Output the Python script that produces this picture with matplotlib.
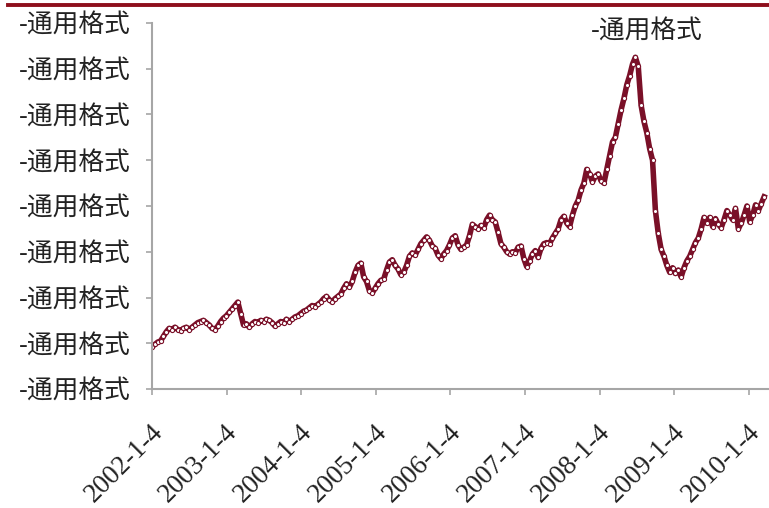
import matplotlib
matplotlib.use("Agg")
import matplotlib.pyplot as plt
import matplotlib.transforms as mtransforms
from matplotlib.lines import Line2D
import pandas as pd

plt.rcParams['font.family'] = ['Noto Sans CJK SC', 'DejaVu Sans']

# Biweekly observations, 2002-01-04 onward
start_date = "2002-01-04"
values_2002 = [18.5, 19.5, 20.5, 21, 23, 25, 26.5, 26, 27, 26, 25.5, 26.5, 27,
               26, 27, 28, 29, 29.5, 30, 29, 28, 26.5, 26, 27.5, 29.5, 31]
values_2003 = [32, 33.5, 35, 36.5, 38, 33, 28, 28.5, 27, 28.5, 29.5, 29, 30,
               29.5, 30.5, 30, 29, 27.5, 28.5, 29.5, 29, 30.5, 29.5, 30.5, 31.5, 32]
values_2004 = [33, 34, 34.5, 35.5, 36.5, 36, 37, 38, 39.5, 40.5, 39, 38, 39.5,
               40.5, 41.5, 44, 46, 44.5, 47, 51, 54, 55, 49, 47, 43, 42]
values_2005 = [44, 46, 47.5, 48, 52, 55.5, 56.5, 54, 52.5, 50, 51, 54, 58,
               59.5, 58.5, 61, 63.5, 65, 66.5, 65, 62.5, 61.5, 58.5, 57, 59, 60.5]
values_2006 = [63, 66, 67, 63, 61, 62, 63, 67, 72, 71, 70, 71.5, 70.5,
               74, 76, 74, 73, 68.5, 63.5, 62, 60, 59, 60, 59.5, 62, 62.5]
values_2007 = [57, 53.5, 56, 59, 60.5, 57.5, 61.5, 63.5, 64, 63.5, 66, 68, 70,
               74, 75.5, 72.5, 71, 76, 80, 82.5, 87, 90, 96, 94, 90.5, 93]
values_2008 = [94, 91, 90, 96, 102, 108, 110, 116, 122, 127, 133, 137, 142,
               145, 141, 124, 117, 112, 105, 100, 78, 68, 61, 58, 54, 51]
values_2009 = [53, 50.5, 52, 49, 53, 56, 58, 61, 64, 66, 70, 75, 72.5,
               75, 71, 74.5, 72, 70.5, 74, 78, 76, 74, 79, 70, 72.5, 76]
values_2010 = [80, 73, 76, 80.5, 78, 81, 84]

series_label = "-通用格式"
y_ticks = [0, 20, 40, 60, 80, 100, 120, 140, 160]
y_tick_labels = ["-通用格式"] * len(y_ticks)
x_tick_dates = ["2002-01-04", "2003-01-04", "2004-01-04", "2005-01-04",
                "2006-01-04", "2007-01-04", "2008-01-04", "2009-01-04",
                "2010-01-04"]
x_tick_labels = ["2002-1-4", "2003-1-4", "2004-1-4", "2005-1-4", "2006-1-4",
                 "2007-1-4", "2008-1-4", "2009-1-4", "2010-1-4"]

values = (values_2002 + values_2003 + values_2004 + values_2005 + values_2006
          + values_2007 + values_2008 + values_2009 + values_2010)
dates = pd.date_range(start_date, periods=len(values), freq="14D")

line_color = "#7a1028"
axis_color = "#a6a6a6"
text_color = "#222222"

fig = plt.figure(figsize=(7.69, 5.08), dpi=100)
ax = fig.add_axes([152 / 769, 119 / 508, 1 - 152 / 769, (389 - 23) / 508])

ax.plot(dates, values, color=line_color, lw=4.0, marker="o", ms=3.0,
        mfc="white", mec=line_color, mew=0.8, solid_joinstyle="round")

ax.set_ylim(0, 160)
ax.set_xlim(pd.Timestamp(start_date), pd.Timestamp("2010-04-12"))
ax.set_yticks(y_ticks)
ax.set_yticklabels(y_tick_labels, fontsize=18.5, color=text_color)
ax.set_xticks([pd.Timestamp(d) for d in x_tick_dates])
ax.set_xticklabels(x_tick_labels, fontsize=19.5, color=text_color,
                   family=["Liberation Serif", "DejaVu Serif"],
                   rotation=45, ha="right", va="center",
                   rotation_mode="anchor")

for side in ("top", "right"):
    ax.spines[side].set_visible(False)
for side in ("left", "bottom"):
    ax.spines[side].set_color(axis_color)
    ax.spines[side].set_linewidth(1.5)
ax.tick_params(axis="y", direction="out", length=4, width=1.2,
               color=axis_color, pad=11)
ax.tick_params(axis="x", direction="out", length=4, width=1.2,
               color=axis_color, pad=24)

# Shift date labels slightly right so their ends sit beside the ticks
offset = mtransforms.ScaledTranslation(7 / 100, 0, fig.dpi_scale_trans)
for lbl in ax.get_xticklabels():
    lbl.set_transform(lbl.get_transform() + offset)

# Series name at top
fig.text(591 / 769, 1 - 32 / 508, series_label, fontsize=18.5,
         color=text_color, va="center", ha="left")

# Rule across the top of the figure
fig.add_artist(Line2D([8 / 769, 1], [1 - 5 / 508, 1 - 5 / 508],
                      transform=fig.transFigure, color="#8e0f1c", lw=2.8))

fig.savefig("out.png", dpi=100)
